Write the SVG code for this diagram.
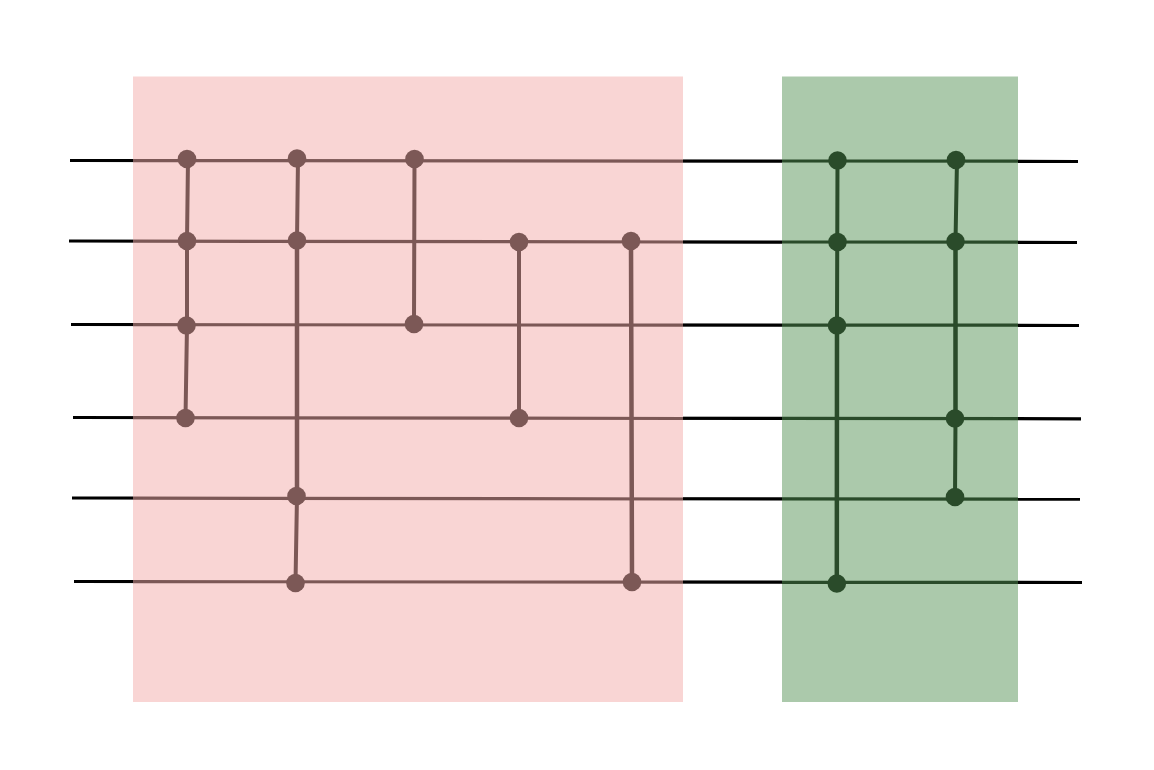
<svg xmlns="http://www.w3.org/2000/svg" width="1154" height="770" viewBox="0 0 1154 770">
<defs><style>
.wire{stroke:#000;stroke-width:3.2;fill:none}
.red{stroke:#7c5856;fill:none}
.green{stroke:#2a4b2a;fill:none}
.h{stroke-width:3.2}
.v{stroke-width:4}
.t{stroke-width:4.500}
</style></defs>
<rect width="1154" height="770" fill="#fff"/>
<g id="wires">
<path class="wire" d="M70 160.500L1078 161.500"/>
<path class="wire" d="M69 241L1077 242.500"/>
<path class="wire" d="M71 324.500L1079 325.500"/>
<path class="wire" d="M73 417.500L1081 418.800"/>
<path class="wire" d="M72 498L1080 499.200"/>
<path class="wire" d="M74 581.500L1082 582.500"/>
</g>
<g id="regions">
<rect id="red-region" x="133" y="76.500" width="550" height="625.500" fill="#f9d5d4"/>
<rect id="green-region" x="782" y="76.500" width="236" height="625.500" fill="#abc9ab"/>
</g>
<g id="connectors">
<path class="red h" d="M133 160.600L683 161.100M133 241.100L683 242M133 324.600L683 325.200M133 417.600L683 418.500M133 498.100L683 499M133 581.600L683 582.200"/>
<path class="red v" d="M188 159L187 241L187 325.500L185.500 418M298 158.500L297 240.500M297 496L295.500 583M414.500 159L414 324M519 242V418"/>
<path class="red t" d="M297 240.500V496M631 241L632 582"/>
<path class="green h" d="M782 161L1018 161.200M782 242L1018 242.200M782 325.200H1018M782 418.300L1018 418.600M782 498.900L1018 499.100M782 582.300H1018"/>
<path class="green v" d="M837.500 160.500L837 325.500M957 160L955.500 241.500M955.500 418.500L955 497"/>
<path class="green t" d="M837 325.500L836.800 583.500M955.500 241.500V418.500"/>
</g>
<g id="nodes-red" fill="#7c5856">
<circle id="n1" cx="187" cy="159" r="9.300"/><circle id="n2" cx="187" cy="241" r="9.300"/><circle id="n3" cx="186.500" cy="325.500" r="9.300"/><circle id="n4" cx="185.500" cy="418" r="9.300"/>
<circle id="n5" cx="297" cy="158.500" r="9.300"/><circle id="n6" cx="297" cy="240.500" r="9.300"/><circle id="n7" cx="296.500" cy="496" r="9.300"/><circle id="n8" cx="295.500" cy="583" r="9.300"/>
<circle id="n9" cx="414.500" cy="159" r="9.300"/><circle id="n10" cx="414" cy="324" r="9.300"/>
<circle id="n11" cx="519" cy="242" r="9.300"/><circle id="n12" cx="519" cy="418" r="9.300"/>
<circle id="n13" cx="631" cy="241" r="9.300"/><circle id="n14" cx="632" cy="582" r="9.300"/>
</g>
<g id="nodes-green" fill="#2a4b2a">
<circle id="g1" cx="837.500" cy="160.500" r="9.300"/><circle id="g2" cx="837.500" cy="242" r="9.300"/><circle id="g3" cx="837" cy="325.500" r="9.300"/><circle id="g4" cx="836.800" cy="583.500" r="9.300"/>
<circle id="g5" cx="956" cy="160" r="9.300"/><circle id="g6" cx="955.500" cy="241.500" r="9.300"/><circle id="g7" cx="955" cy="418.500" r="9.300"/><circle id="g8" cx="955" cy="497" r="9.300"/>
</g>
</svg>
